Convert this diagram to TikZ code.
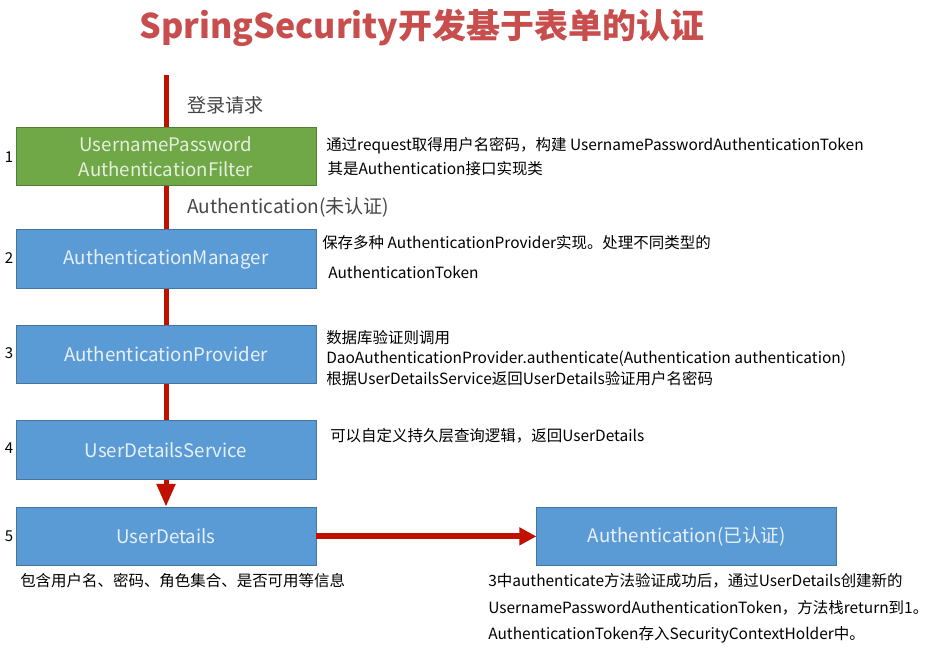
\documentclass[tikz,border=0pt]{standalone}
\usepackage{fontspec}
\setmainfont{Noto Sans CJK SC}
\usepackage{xcolor}
\definecolor{sstitle}{RGB}{200,78,78}
\definecolor{ssgreen}{RGB}{112,168,72}
\definecolor{ssblue}{RGB}{91,155,213}
\definecolor{ssred}{RGB}{192,16,0}
\definecolor{ssgray}{RGB}{70,70,70}
\usepackage{tikz}
\usetikzlibrary{arrows.meta, positioning}

\begin{document}
\begin{tikzpicture}[
  x=0.75pt, y=-0.75pt,
  stagebox/.style={rectangle, draw=ssblue!75!black, line width=0.6pt, fill=ssblue,
               minimum width=225pt, minimum height=44pt, inner sep=2pt,
               font=\fontsize{14}{18.75}\selectfont, text=white!85!ssblue, align=center},
  filterbox/.style={stagebox, draw=ssgreen!75!black, fill=ssgreen, text=white!82!ssgreen},
  flow/.style={line width=3.75pt, color=ssred},
  note/.style={inner sep=0pt, anchor=west, align=left, font=\fontsize{11.6}{18}\selectfont},
  lbl/.style={inner sep=0pt, text=ssgray, font=\fontsize{14.3}{18}\selectfont},
  numlbl/.style={inner sep=0pt, font=\fontsize{11.25}{14}\selectfont}
]
  \useasboundingbox (0,0) rectangle (942,651);

  % title
  \node[inner sep=0pt, text=sstitle, font=\fontsize{25.5}{30}\bfseries] (title) at (422,28)
    {SpringSecurity开发基于表单的认证};

  % chain of stages
  \node[filterbox] (s1) at (166,156.5) {UsernamePassword\\AuthenticationFilter};
  \node[stagebox, below=32.25pt of s1] (s2) {AuthenticationManager};
  \node[stagebox, below=27pt of s2] (s3) {AuthenticationProvider};
  \node[stagebox, below=27pt of s3] (s4) {UserDetailsService};
  \node[stagebox, below=20.25pt of s4] (s5) {UserDetails};
  \node[stagebox, right=165pt of s5] (auth) {Authentication(已认证)};

  \coordinate (req) at (166,75);
  \draw[flow] (req) -- (s1) node[lbl, midway, right=14pt, yshift=-3pt] (l0) {登录请求};
  \draw[flow] (s1) -- (s2) node[lbl, midway, right=14pt] (l1) {Authentication(未认证)};
  \draw[flow] (s2) -- (s3);
  \draw[flow] (s3) -- (s4);
  \draw[flow, -{Triangle[length=17pt, width=13.5pt]}] (s4) -- (s5);
  \draw[line width=4.5pt, color=ssred, -{Triangle[length=12.75pt, width=12.75pt]}] (s5) -- (auth);

  % step numbers
  \node[numlbl] (n1) at (9,157) {1};
  \node[numlbl] (n2) at (9,258) {2};
  \node[numlbl] (n3) at (9,353) {3};
  \node[numlbl] (n4) at (9,448) {4};
  \node[numlbl] (n5) at (9,536) {5};

  % notes
  \node[note] (t1) at (326,157)
    {通过request取得用户名密码，构建 UsernamePasswordAuthenticationToken\\
     \hspace{1pt}其是Authentication接口实现类};
  \node[note, font=\fontsize{11.6}{22.5}\selectfont] (t2) at (322,257)
    {保存多种 AuthenticationProvider实现。处理不同类型的\\
     \hspace{4.5pt}AuthenticationToken};
  \node[note, font=\fontsize{11.6}{15.4}\selectfont] (t3) at (326,358)
    {数据库验证则调用\\
     DaoAuthenticationProvider.authenticate(Authentication authentication)\\
     根据UserDetailsService返回UserDetails验证用户名密码};
  \node[note] (t4) at (330,436) {可以自定义持久层查询逻辑，返回UserDetails};
  \node[note] (t5) at (20,581) {包含用户名、密码、角色集合、是否可用等信息};
  \node[note, font=\fontsize{11.6}{20}\selectfont] (t6) at (488,608.5)
    {3中authenticate方法验证成功后，通过UserDetails创建新的\\
     UsernamePasswordAuthenticationToken，方法栈return到1。\\
     AuthenticationToken存入SecurityContextHolder中。};
\end{tikzpicture}
\end{document}
